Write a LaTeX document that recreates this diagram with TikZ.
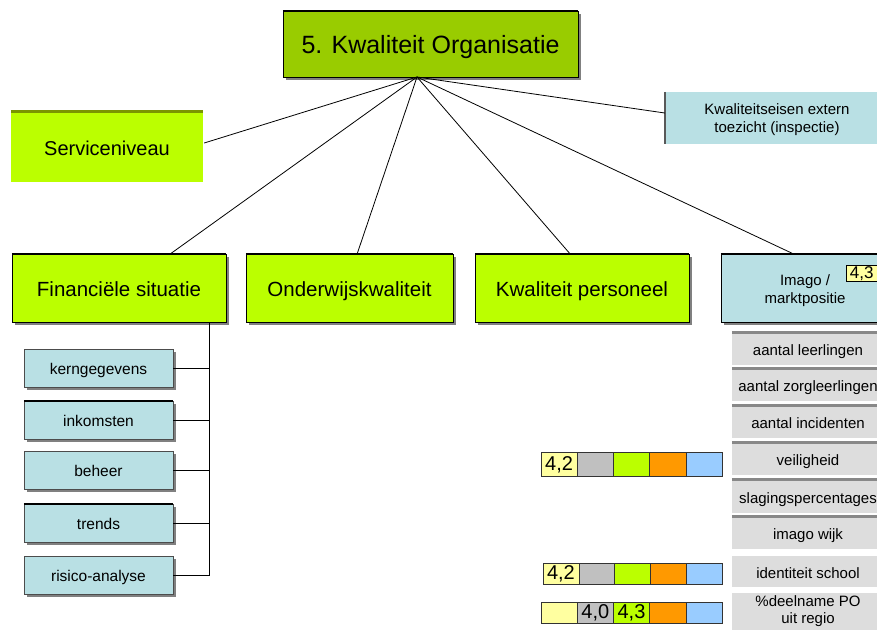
\documentclass[tikz,border=0pt]{standalone}
\usepackage{fontspec}
\setmainfont{Liberation Sans}
\usetikzlibrary{calc,shadows}

\definecolor{rootgreen}{RGB}{153,204,0}
\definecolor{limegreen}{RGB}{187,255,0}
\definecolor{darkolive}{RGB}{122,150,0}
\definecolor{paleblue}{RGB}{185,224,228}
\definecolor{boxgray}{RGB}{221,221,221}
\definecolor{rulegray}{RGB}{136,136,136}
\definecolor{scoreyellow}{RGB}{255,255,160}
\definecolor{scoregray}{RGB}{192,192,192}
\definecolor{scoreorange}{RGB}{255,153,0}
\definecolor{scoreblue}{RGB}{153,204,255}

% lower a line of text inside a node without changing its box
\newcommand\droptext[2]{\raisebox{-#1}[0.75em][0.25em]{#2}}

\tikzset{
  boxshadow/.style={drop shadow={shadow xshift=2.5pt,shadow yshift=-2.5pt,fill=black!50,opacity=1}},
  rootbox/.style={draw=black,fill=rootgreen,minimum width=295,minimum height=66,inner sep=0pt,
    font=\fontsize{25}{29}\selectfont,text height=20pt,text depth=2pt,boxshadow},
  mainbox/.style={draw=black,fill=limegreen,minimum height=68,inner sep=0pt,
    font=\fontsize{20.5}{24}\selectfont,text height=19pt,text depth=2pt,boxshadow},
  servbox/.style={fill=limegreen,minimum width=192,minimum height=70,inner sep=0pt,
    font=\fontsize{20}{24}\selectfont,text height=19pt,text depth=2pt},
  extbox/.style={fill=paleblue,minimum width=224,minimum height=52,inner sep=0pt,align=center,
    font=\fontsize{15}{18}\selectfont},
  imagobox/.style={draw=black,fill=paleblue,minimum width=168,minimum height=68,inner sep=0pt,
    align=center,font=\fontsize{15}{18}\selectfont,boxshadow},
  subbox/.style={draw=black!70,fill=paleblue,minimum width=149,minimum height=38,inner sep=0pt,
    font=\fontsize{15.5}{18}\selectfont,text height=13pt,text depth=1pt,boxshadow},
  graybox/.style={fill=boxgray,minimum width=152,inner sep=0pt,align=center,
    font=\fontsize{15}{17}\selectfont},
  grayline/.style={graybox,text height=14pt,text depth=1pt},
  cell/.style={draw=black!80,minimum width=36.2,inner sep=0pt,font=\fontsize{20}{21}\selectfont,
    text height=14pt,text depth=1.5pt},
  badge/.style={draw=black,fill=scoreyellow,minimum width=31,minimum height=16,inner sep=0pt,
    font=\fontsize{17}{18}\selectfont,text height=12pt,text depth=1pt},
  link/.style={draw=black,line width=0.8pt},
}

\begin{document}
\begin{tikzpicture}[x=1pt,y=-1pt]
\useasboundingbox (0,0) rectangle (877,632);
\clip (0,0) rectangle (877,632);

% top of the tree
\node[rootbox] (root) at (430.5,44) {5. Kwaliteit Organisatie};
\node[servbox] (serv) at (107,147) {Serviceniveau};
\node[extbox] (ext) at (777,118) {\droptext{2pt}{Kwaliteitseisen extern}\\\droptext{2pt}{toezicht (inspectie)}};

% second level
\node[mainbox,minimum width=214] (fin) at (119,288) {Financiële situatie};
\node[mainbox,minimum width=207] (ond) at (349.5,288) {Onderwijskwaliteit};
\node[mainbox,minimum width=214] (pers) at (582,288) {Kwaliteit personeel};
\node[imagobox] (imago) at (805,288) {\droptext{3pt}{Imago /}\\\droptext{3pt}{marktpositie}};
\node[badge,anchor=west] (imagoscore) at (846,273) {4,3};

% heavy top rules
\foreach \n in {root,fin,ond,pers,imago}
  \draw[line width=2.5pt] (\n.north west) -- (\n.north east);
\draw[darkolive,line width=3pt] (serv.north west) -- (serv.north east);
\draw[black!65,line width=2pt] (ext.north west) -- (ext.south west);

% connectors from the root
\coordinate (hub) at (417,77);
\draw[link] (hub) -- ($(serv.east)+(1,-4)$);
\draw[link] (hub) -- ($(ext.west)+(0,-5)$);
\draw[link] (hub) -- ($(fin.north west)!0.74!(fin.north east)$);
\draw[link] (hub) -- ($(ond.north west)!0.537!(ond.north east)$);
\draw[link] (hub) -- ($(pers.north west)!0.444!(pers.north east)$);
\draw[link] (hub) -- ($(imago.north west)!0.43!(imago.north east)$);

% financial breakdown
\node[subbox] (kern) at (98.5,368) {kerngegevens};
\node[subbox] (ink) at (98.5,420) {inkomsten};
\node[subbox] (beh) at (98.5,470.5) {beheer};
\node[subbox] (trends) at (98.5,523) {trends};
\node[subbox] (risico) at (98.5,575.5) {risico-analyse};
\foreach \n in {ink,trends}
  \draw[line width=2pt] (\n.north west) -- (\n.north east);

\coordinate (spine) at ($(fin.south west)!0.92!(fin.south east)$);
\draw[link] (spine) -- (spine |- risico.east);
\foreach \n in {kern,ink,beh,trends,risico}
  \draw[link] (\n.east) -- (\n.east -| spine);

% image / market position indicators
\node[grayline,minimum height=32] (leer) at (808,349) {aantal leerlingen};
\node[grayline,minimum height=32] (zorg) at (808,385) {aantal zorgleerlingen};
\node[grayline,minimum height=32] (incid) at (808,422) {aantal incidenten};
\node[grayline,minimum height=32] (veil) at (808,459) {veiligheid};
\node[grayline,minimum height=33] (slag) at (808,496.5) {slagingspercentages};
\node[grayline,minimum height=32] (wijk) at (808,533) {imago wijk};
\node[grayline,minimum height=31] (ident) at (808,571.5) {identiteit school};
\node[graybox,minimum height=37] (deel) at (808,611.5) {\%deelname PO\\uit regio};
\foreach \n in {leer,zorg,incid,veil,slag,wijk}
  \draw[rulegray,line width=3pt] (\n.north west) -- (\n.north east);

% score bars
\node[cell,fill=scoreyellow,minimum height=24] (v1) at (559.1,464) {4,2};
\node[cell,fill=scoregray,minimum height=24] (v2) at (595.3,464) {};
\node[cell,fill=limegreen,minimum height=24] (v3) at (631.5,464) {};
\node[cell,fill=scoreorange,minimum height=24] (v4) at (667.7,464) {};
\node[cell,fill=scoreblue,minimum height=24] (v5) at (703.9,464) {};

\node[cell,fill=scoreyellow,minimum height=21,minimum width=35.8] (i1) at (560.9,573.5) {4,2};
\node[cell,fill=scoregray,minimum height=21,minimum width=35.8] (i2) at (596.7,573.5) {};
\node[cell,fill=limegreen,minimum height=21,minimum width=35.8] (i3) at (632.5,573.5) {};
\node[cell,fill=scoreorange,minimum height=21,minimum width=35.8] (i4) at (668.3,573.5) {};
\node[cell,fill=scoreblue,minimum height=21,minimum width=35.8] (i5) at (704.1,573.5) {};

\node[cell,fill=scoreyellow,minimum height=21] (d1) at (559.1,612.5) {};
\node[cell,fill=scoregray,minimum height=21] (d2) at (595.3,612.5) {4,0};
\node[cell,fill=limegreen,minimum height=21] (d3) at (631.5,612.5) {4,3};
\node[cell,fill=scoreorange,minimum height=21] (d4) at (667.7,612.5) {};
\node[cell,fill=scoreblue,minimum height=21] (d5) at (703.9,612.5) {};
\end{tikzpicture}
\end{document}
